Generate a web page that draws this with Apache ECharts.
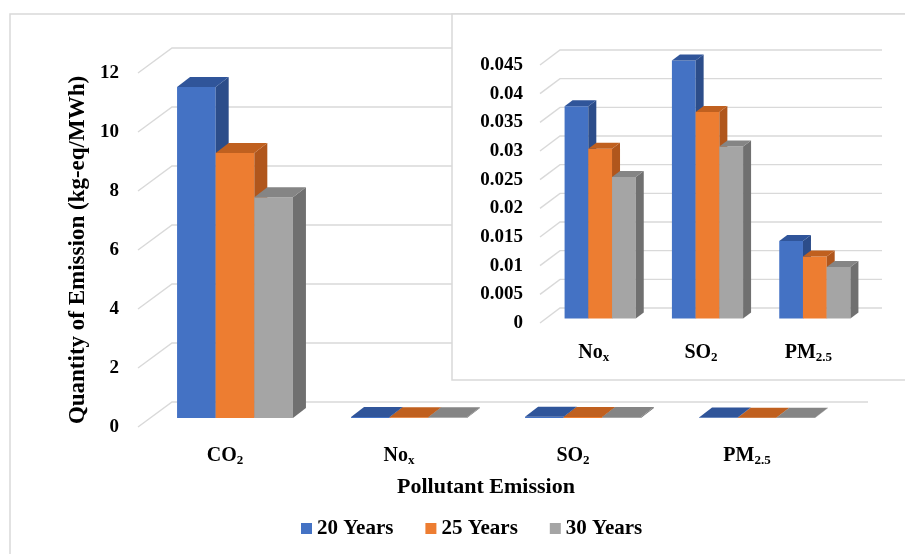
<!DOCTYPE html>
<html>
<head>
<meta charset="utf-8">
<script src="https://cdn.jsdelivr.net/npm/echarts@6/dist/echarts.min.js"></script>
<style>
  html, body { margin: 0; padding: 0; background: #fff; }
  #chart { width: 905px; height: 554px; }
</style>
</head>
<body>
<div id="chart"></div>
<script>
// data
const categories = ['CO2', 'NOx', 'SO2', 'PM2.5'];
const catLabels = ['{n|CO}{s|2}', '{n|No}{s|x}', '{n|SO}{s|2}', '{n|PM}{s|2.5}'];
const seriesNames = ['20 Years', '25 Years', '30 Years'];
const years20 = [11.22, 0.037, 0.045, 0.0135];
const years25 = [8.98, 0.0296, 0.036, 0.0108];
const years30 = [7.48, 0.0247, 0.030, 0.009];
const mainTicks = [0, 2, 4, 6, 8, 10, 12];
const insetTicks = [0, 0.005, 0.01, 0.015, 0.02, 0.025, 0.03, 0.035, 0.04, 0.045];

const FONT = "'Liberation Serif', 'Times New Roman', serif";
const frontColors = ['#4472C4', '#ED7D31', '#A5A5A5'];
const sideColors = ['#2C4D8A', '#B0561C', '#707070'];
const topColors = ['#30559A', '#C0601F', '#858585'];
const allValues = [years20, years25, years30];

const richLabel = size => ({
    n: { fontFamily: FONT, fontWeight: 'bold', fontSize: size, color: '#000', lineHeight: size + 2 },
    s: { fontFamily: FONT, fontWeight: 'bold', fontSize: Math.round(size * 0.65), color: '#000',
         lineHeight: Math.round(size * 0.65), verticalAlign: 'bottom' }
});

// back wall grid lines with the slanted side wall part
function wallLines(dx, dy) {
    return function (params, api) {
        const cs = params.coordSys;
        const y = api.coord([0, api.value(1)])[1];
        return {
            type: 'polyline',
            shape: { points: [[cs.x, y], [cs.x + dx, y + dy], [cs.x + cs.width + dx, y + dy]] },
            style: { stroke: '#d9d9d9', lineWidth: 1.4, fill: null }
        };
    };
}

// pseudo 3d bar: front face, side face, top face
function bar3d(k, off, depth, ratio) {
    return function (params, api) {
        const cat = api.value(0);
        const base = api.coord([cat, 0]);
        const top = api.coord([cat, api.value(1)]);
        const bw = api.size([1, 0])[0] * ratio;
        const x0 = base[0] - 1.5 * bw + off[0] + k * bw;
        const x1 = x0 + bw;
        const yb = base[1] + off[1];
        const yt = top[1] + off[1];
        const dx = depth[0], dy = depth[1];
        return {
            type: 'group',
            children: [
                { type: 'rect', shape: { x: x0, y: yt, width: bw, height: yb - yt },
                  style: { fill: frontColors[k] } },
                { type: 'polygon', shape: { points: [[x1, yt], [x1 + dx, yt + dy], [x1 + dx, yb + dy], [x1, yb]] },
                  style: { fill: sideColors[k] } },
                { type: 'polygon', shape: { points: [[x0, yt], [x0 + dx, yt + dy], [x1 + dx, yt + dy], [x1, yt]] },
                  style: { fill: topColors[k] } }
            ]
        };
    };
}

const series = [];
series.push({
    type: 'custom', xAxisIndex: 0, yAxisIndex: 0, z: 1, silent: true,
    renderItem: wallLines(34, -25),
    data: mainTicks.map(v => [0, v])
});
allValues.forEach((vals, k) => {
    series.push({
        name: seriesNames[k], type: 'custom', xAxisIndex: 0, yAxisIndex: 0, z: 2,
        itemStyle: { color: frontColors[k] },
        renderItem: bar3d(k, [10, -9], [13, -10], 0.222),
        encode: { x: 0, y: 1 },
        data: vals.map((v, i) => [i, v])
    });
});
series.push({
    type: 'custom', xAxisIndex: 1, yAxisIndex: 1, z: 6, silent: true,
    renderItem: wallLines(20, -15),
    data: insetTicks.map(v => [0, v])
});
allValues.forEach((vals, k) => {
    series.push({
        name: seriesNames[k], type: 'custom', xAxisIndex: 1, yAxisIndex: 1, z: 7,
        itemStyle: { color: frontColors[k] },
        renderItem: bar3d(k, [6.5, -4.5], [8, -6], 0.221),
        encode: { x: 0, y: 1 },
        data: vals.slice(1).map((v, i) => [i, v])
    });
});

const chart = echarts.init(document.getElementById('chart'));
chart.setOption({
    animation: false,
    backgroundColor: '#fff',
    graphic: [
        { type: 'rect', z: 0, silent: true, shape: { x: 10, y: 14, width: 1000, height: 1000 },
          style: { fill: null, stroke: '#d9d9d9', lineWidth: 1.5 } },
        { type: 'rect', z: 5, silent: true, shape: { x: 452, y: 14, width: 600, height: 366 },
          style: { fill: '#fff', stroke: '#d9d9d9', lineWidth: 1.5 } }
    ],
    legend: {
        data: seriesNames,
        left: 296, top: 513,
        icon: 'rect', itemWidth: 11, itemHeight: 11, itemGap: 32, itemTextGap: 5,
        textStyle: { fontFamily: FONT, fontWeight: 'bold', fontSize: 21, color: '#000' }
    },
    grid: [
        { left: 138, top: 73, width: 696, height: 354 },
        { left: 540, top: 65, width: 322, height: 258 }
    ],
    xAxis: [
        {
            type: 'category', gridIndex: 0, data: categories,
            axisLine: { show: false }, axisTick: { show: false }, splitLine: { show: false },
            axisLabel: { margin: 18, formatter: (v, i) => catLabels[i], rich: richLabel(20) },
            name: 'Pollutant Emission', nameLocation: 'middle', nameGap: 49,
            nameTextStyle: { fontFamily: FONT, fontWeight: 'bold', fontSize: 22, color: '#000' }
        },
        {
            type: 'category', gridIndex: 1, data: categories.slice(1), z: 10,
            axisLine: { show: false }, axisTick: { show: false }, splitLine: { show: false },
            axisLabel: { margin: 19, formatter: (v, i) => catLabels[i + 1], rich: richLabel(20) }
        }
    ],
    yAxis: [
        {
            type: 'value', gridIndex: 0, min: 0, max: 12, interval: 2,
            axisLine: { show: false }, axisTick: { show: false }, splitLine: { show: false },
            axisLabel: { margin: 19, fontFamily: FONT, fontWeight: 'bold', fontSize: 19, color: '#000' },
            name: 'Quantity of Emission (kg-eq/MWh)', nameLocation: 'middle', nameRotate: 90, nameGap: 46,
            nameTextStyle: { fontFamily: FONT, fontWeight: 'bold', fontSize: 23, color: '#000' }
        },
        {
            type: 'value', gridIndex: 1, min: 0, max: 0.045, interval: 0.005, z: 10,
            axisLine: { show: false }, axisTick: { show: false }, splitLine: { show: false },
            axisLabel: { margin: 17, fontFamily: FONT, fontWeight: 'bold', fontSize: 19, color: '#000' }
        }
    ],
    series: series
});
</script>
</body>
</html>
